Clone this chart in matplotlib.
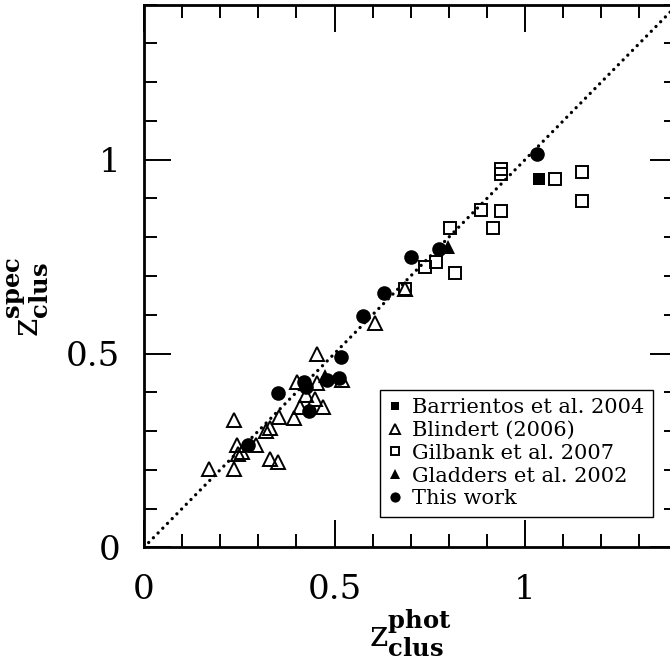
import matplotlib
matplotlib.use("Agg")
import matplotlib.pyplot as plt

plt.rcParams['font.family'] = ['DejaVu Serif']
plt.rcParams['mathtext.fontset'] = 'dejavuserif'

# Data (z_phot, z_spec)
barrientos_x = [1.037]
barrientos_y = [0.951]

blindert_x = [0.453, 0.402, 0.455, 0.520, 0.426, 0.448, 0.471, 0.409, 0.395, 0.354,
              0.236, 0.330, 0.321, 0.245, 0.293, 0.258, 0.248, 0.331, 0.353, 0.170,
              0.236, 0.606, 0.684]
blindert_y = [0.499, 0.427, 0.423, 0.432, 0.393, 0.382, 0.362, 0.361, 0.333, 0.335,
              0.328, 0.308, 0.300, 0.264, 0.264, 0.246, 0.240, 0.229, 0.219, 0.203,
              0.203, 0.578, 0.667]

gilbank_x = [0.937, 0.937, 1.079, 1.149, 1.149, 0.885, 0.937, 0.917, 0.804, 0.767,
             0.738, 0.816, 0.684]
gilbank_y = [0.977, 0.962, 0.950, 0.968, 0.894, 0.870, 0.869, 0.825, 0.823, 0.735,
             0.724, 0.709, 0.667]

gladders_x = [0.799, 0.476]
gladders_y = [0.774, 0.443]

thiswork_x = [0.273, 0.353, 0.420, 0.424, 0.433, 0.481, 0.511, 0.516, 0.575, 0.629,
              0.702, 0.773, 1.031]
thiswork_y = [0.264, 0.397, 0.427, 0.414, 0.351, 0.432, 0.438, 0.492, 0.597, 0.656,
              0.748, 0.769, 1.016]

labels = ["Barrientos et al. 2004", "Blindert (2006)", "Gilbank et al. 2007",
          "Gladders et al. 2002", "This work"]

fig = plt.figure(figsize=(6.7, 6.63), dpi=100)
ax = fig.add_axes([144/670, 115.7/663, 533.4/670, 542.6/663])

ax.plot([0, 1.4], [0, 1.4], color='black', lw=2.4, linestyle=(0, (0.01, 2.0)),
        dash_capstyle='round', zorder=1)

h1, = ax.plot(barrientos_x, barrientos_y, 's', color='black', ms=8, mew=0, zorder=3,
              label=labels[0])
h2, = ax.plot(blindert_x, blindert_y, '^', color='black', mfc='none', ms=9.5, mew=1.4,
              zorder=2, label=labels[1])
h3, = ax.plot(gilbank_x, gilbank_y, 's', color='black', mfc='none', ms=8.3, mew=1.4,
              zorder=2, label=labels[2])
h4, = ax.plot(gladders_x, gladders_y, '^', color='black', ms=9.5, mew=0, zorder=3,
              label=labels[3])
h5, = ax.plot(thiswork_x, thiswork_y, 'o', color='black', ms=10.5, mew=0, zorder=4,
              label=labels[4])

ax.set_xlim(0, 1.4)
ax.set_ylim(0, 1.4)
ax.set_xticks([0, 0.5, 1])
ax.set_yticks([0, 0.5, 1])
ax.set_xticklabels(['0', '0.5', '1'])
ax.set_yticklabels(['0', '0.5', '1'])
ax.set_xticks([i / 10 for i in range(15)], minor=True)
ax.set_yticks([i / 10 for i in range(15)], minor=True)

ax.tick_params(which='both', direction='in', top=True, right=True, width=1.4,
               labelsize=24.5, color='black')
ax.tick_params(which='major', length=19.5)
ax.tick_params(which='minor', length=9.4)
ax.tick_params(axis='x', which='major', pad=19)
ax.tick_params(axis='y', which='major', pad=17)
for s in ax.spines.values():
    s.set_linewidth(2.0)

ax.set_xlabel(r'$\mathrm{z}^{\mathbf{phot}}_{\mathbf{clus}}$', fontsize=25)
ax.set_ylabel(r'$\mathrm{z}^{\mathbf{spec}}_{\mathbf{clus}}$', fontsize=25)
ax.xaxis.set_label_coords(0.5, -0.11)
ax.yaxis.set_label_coords(-0.176, 0.461)

leg = ax.legend(handles=[h1, h2, h3, h4, h5], loc='upper left',
                bbox_to_anchor=(0.4425, 0.29), borderaxespad=0, fontsize=15,
                frameon=True, fancybox=False, framealpha=1, edgecolor='black',
                handlelength=0.6, handletextpad=0.55, labelspacing=0.18,
                borderpad=0.4, markerscale=0.7)
leg.get_frame().set_linewidth(1.0)

fig.savefig('out.png', dpi=100)
